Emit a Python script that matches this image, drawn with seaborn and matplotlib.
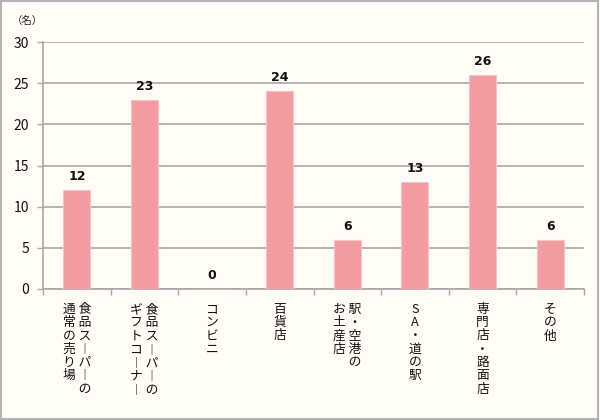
import matplotlib
matplotlib.use("Agg")
import matplotlib.pyplot as plt
import seaborn as sns
import pandas as pd
from matplotlib.patches import Rectangle

categories = ["食品スーパーの\n通常の売り場", "食品スーパーの\nギフトコーナー", "コンビニ", "百貨店",
              "駅・空港の\nお土産店", "SA・道の駅", "専門店・路面店", "その他"]
values = [12, 23, 0, 24, 6, 13, 26, 6]
yticks = [0, 5, 10, 15, 20, 25, 30]
unit_label = "（名）"

sns.set_theme(style="white")
plt.rcParams['font.family'] = ['Noto Sans CJK JP', 'DejaVu Sans']

BG = "#FFFDF6"
BAR = "#F29CA2"
GRID = "#A8A8A8"


def vertical(label):
    cols = label.split("\n")  # first line = rightmost column
    cols = [c.replace("ー", "︱") for c in cols]
    n = max(len(c) for c in cols)
    rows = []
    for i in range(n):
        chars = []
        for c in reversed(cols):
            chars.append(c[i] if i < len(c) else "　")
        rows.append(" ".join(chars))
    return "\n".join(rows)


df = pd.DataFrame({"cat": categories, "val": values})

fig = plt.figure(figsize=(6, 4.2), dpi=100, facecolor=BG)
ax = fig.add_axes([43 / 600, 1 - 289 / 420, (584 - 43) / 600, (289 - 42) / 420])
ax.set_facecolor(BG)

sns.barplot(data=df, x="cat", y="val", color=BAR, width=0.4, saturation=1,
            edgecolor="#F8C3C7", linewidth=0.8, ax=ax, zorder=3)

ax.set_ylim(0, 30)
ax.set_yticks(yticks)
ax.set_xlim(-0.5, len(categories) - 0.5)
ax.yaxis.grid(True, color=GRID, linewidth=1.2, zorder=0)
ax.set_axisbelow(True)

ax.set_xlabel("")
ax.set_ylabel("")
ax.set_xticks(range(len(categories)))
ax.set_xticklabels([vertical(c) for c in categories], fontsize=9.2, va="top",
                   ha="center", linespacing=1.03, color="#111111")
ax.set_xticks([i - 0.5 for i in range(len(categories) + 1)], minor=True)
ax.tick_params(axis="x", which="major", length=0, pad=10)
ax.tick_params(axis="x", which="minor", length=4, width=1, color=GRID, direction="out", bottom=True)
ax.tick_params(axis="y", length=4, width=1, color=GRID, direction="out", left=True,
               labelsize=10, labelcolor="#111111", pad=6)

for s in ["top", "right"]:
    ax.spines[s].set_visible(False)
for s in ["left", "bottom"]:
    ax.spines[s].set_color(GRID)
    ax.spines[s].set_linewidth(1.2)

for container in ax.containers:
    ax.bar_label(container, labels=[str(v) for v in values], padding=5,
                 fontsize=9, fontweight="bold", color="#111111", family="DejaVu Sans")

fig.text(12 / 600, 1 - 21 / 420, unit_label, fontsize=7.5, ha="left", va="center", color="#222222")

fig.patches.append(Rectangle((0.002, 0.003), 0.995, 0.994, transform=fig.transFigure,
                             fill=False, edgecolor="#B4B4B4", linewidth=1.5))

fig.savefig("out.png", dpi=100, facecolor=BG)
